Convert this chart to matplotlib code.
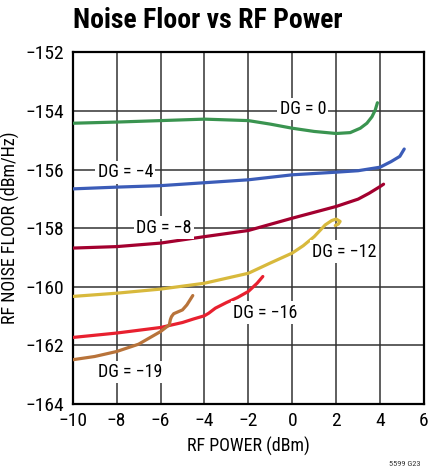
import matplotlib
matplotlib.use('Agg')
import matplotlib.pyplot as plt

plt.rcParams['font.family'] = ['Roboto Condensed', 'Liberation Sans Narrow', 'Roboto', 'DejaVu Sans']
plt.rcParams['axes.unicode_minus'] = True

# RF power (dBm) and noise floor (dBm/Hz)
dg0_x = [-10, -8, -6, -4, -2, -1, 0, 1, 2, 2.64, 3.1, 3.4, 3.63, 3.78, 3.88]
dg0_y = [-154.42, -154.38, -154.33, -154.28, -154.33, -154.45, -154.59, -154.7, -154.77,
         -154.74, -154.59, -154.42, -154.2, -153.97, -153.72]

dg4_x = [-10, -8, -6, -4, -2, 0, 2, 3, 4, 4.5, 4.9, 5.1]
dg4_y = [-156.66, -156.6, -156.55, -156.45, -156.35, -156.18, -156.09, -156.04, -155.92,
         -155.73, -155.55, -155.3]

dg8_x = [-10, -8, -6, -4, -2, 0, 2, 3, 3.5, 4, 4.16]
dg8_y = [-158.68, -158.63, -158.51, -158.29, -158.08, -157.66, -157.26, -157.01, -156.81,
         -156.58, -156.5]

dg12_x = [-10, -8, -6, -4, -2, -1, 0, 0.5, 1, 1.5, 1.8, 2.0, 2.18, 2.1, 1.96]
dg12_y = [-160.33, -160.22, -160.08, -159.88, -159.54, -159.19, -158.85, -158.6, -158.29,
          -157.89, -157.74, -157.69, -157.77, -157.86, -157.91]

dg16_x = [-10, -8, -6, -5, -4.5, -4, -3.8, -3.5, -3, -2.5, -2, -1.6, -1.34]
dg16_y = [-161.73, -161.58, -161.39, -161.22, -161.1, -160.99, -160.9, -160.73, -160.54,
          -160.37, -160.16, -159.88, -159.65]

dg19_x = [-10, -9, -8, -7, -6, -5.6, -5.55, -5.5, -5.4, -5, -4.8, -4.53]
dg19_y = [-162.49, -162.38, -162.21, -161.96, -161.53, -161.3, -161.12, -161.02, -160.92,
          -160.79, -160.62, -160.3]

curves = [
    (dg0_x, dg0_y, '#3a9450'),
    (dg4_x, dg4_y, '#3b5cb8'),
    (dg8_x, dg8_y, '#a3002f'),
    (dg12_x, dg12_y, '#d8b93c'),
    (dg16_x, dg16_y, '#e8202f'),
    (dg19_x, dg19_y, '#b8733a'),
]

labels = ['DG = 0', 'DG = \u22124', 'DG = \u22128', 'DG = \u221212', 'DG = \u221216', 'DG = \u221219']
label_x = [0.48, -7.6, -5.84, 2.37, -1.23, -7.39]
label_y = [-153.94, -156.1, -157.98, -158.8, -160.88, -162.92]

fig = plt.figure(figsize=(4.47, 4.68), dpi=100)
ax = fig.add_axes([0.1626, 0.1368, 0.7859, 0.7514])

for x, y, c in curves:
    ax.plot(x, y, color=c, lw=2.3, solid_capstyle='round', solid_joinstyle='round', zorder=3)

for t, lx, ly in zip(labels, label_x, label_y):
    ax.text(lx, ly, t, fontsize=13, ha='center', va='center', zorder=4,
            bbox=dict(facecolor='white', edgecolor='none', pad=1.5))

ax.set_xlim(-10, 6)
ax.set_ylim(-164, -152)
ax.set_xticks(range(-10, 7, 2))
ax.set_yticks(range(-164, -151, 2))
ax.grid(True, color='#333333', lw=1.1)
ax.tick_params(length=0, labelsize=14, pad=6)
for s in ax.spines.values():
    s.set_linewidth(1.6)
ax.set_xlabel('RF POWER (dBm)', fontsize=13, labelpad=5)
ax.set_ylabel('RF NOISE FLOOR (dBm/Hz)', fontsize=13, labelpad=4)

fig.text(0.163, 0.957, 'Noise Floor vs RF Power', fontsize=20, fontweight='bold',
         ha='left', va='center')
fig.text(0.94, 0.002, '5599 G23', fontsize=6, ha='right', va='bottom', color='#333333')

fig.savefig('out.png', dpi=100)
